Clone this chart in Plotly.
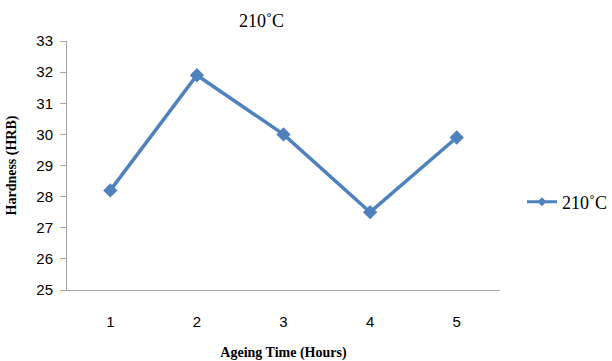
import plotly.graph_objects as go

# Hardness after ageing at 210 °C
ageing_hours = ["1", "2", "3", "4", "5"]
hardness_hrb = [28.2, 31.9, 30.0, 27.5, 29.9]
series_name = "210˚C"
y_ticks = [25, 26, 27, 28, 29, 30, 31, 32, 33]

blue = "#4F81BD"
axis_grey = "#A6A6A6"
serif = "Liberation Serif, Times New Roman, serif"
sans = "Liberation Sans, Arial, sans-serif"

fig = go.Figure()

# main series
fig.add_trace(
    go.Scatter(
        x=ageing_hours,
        y=hardness_hrb,
        mode="lines+markers",
        name=series_name,
        showlegend=False,
        line=dict(color=blue, width=3.5),
        marker=dict(symbol="diamond", size=11, color=blue),
    )
)

# legend entry with a smaller marker
fig.add_trace(
    go.Scatter(
        x=[None],
        y=[None],
        mode="lines+markers",
        name=series_name,
        line=dict(color=blue, width=3),
        marker=dict(symbol="diamond", size=7, color=blue),
    )
)

plot_l, plot_r, plot_t, plot_b = 67, 112, 41, 71
plot_w = 612 - plot_l - plot_r
plot_h = 361 - plot_t - plot_b

fig.update_layout(
    width=612,
    height=361,
    autosize=False,
    margin=dict(l=plot_l, r=plot_r, t=plot_t, b=plot_b, autoexpand=False),
    paper_bgcolor="white",
    plot_bgcolor="white",
    showlegend=True,
    legend=dict(
        x=(522 - plot_l) / plot_w,
        y=(290 - 202) / plot_h,
        xanchor="left",
        yanchor="middle",
        font=dict(family=serif, size=18, color="black"),
        bgcolor="rgba(0,0,0,0)",
        itemwidth=30,
    ),
    annotations=[
        dict(
            text="210˚C",
            x=(261 - plot_l) / plot_w,
            y=(290 - 21) / plot_h,
            xref="paper",
            yref="paper",
            xanchor="center",
            yanchor="middle",
            showarrow=False,
            font=dict(family=serif, size=18, color="black"),
        ),
    ],
)

fig.update_xaxes(
    type="category",
    range=[-0.5, 4.5],
    showline=True,
    linecolor=axis_grey,
    linewidth=1,
    showgrid=False,
    zeroline=False,
    ticks="",
    ticklabelstandoff=18,
    tickfont=dict(family=sans, size=15, color="black"),
    title=dict(
        text="<b>Ageing Time (Hours)</b>",
        font=dict(family=serif, size=14, color="black"),
        standoff=20,
    ),
)

fig.update_yaxes(
    range=[25, 33],
    tickvals=y_ticks,
    showline=True,
    linecolor=axis_grey,
    linewidth=1,
    showgrid=False,
    zeroline=False,
    ticks="outside",
    ticklen=6,
    tickcolor=axis_grey,
    ticklabelstandoff=4,
    tickfont=dict(family=sans, size=15, color="black"),
    title=dict(
        text="<b>Hardness (HRB)</b>",
        font=dict(family=serif, size=14, color="black"),
        standoff=16,
    ),
)

fig.write_html("out.html")
